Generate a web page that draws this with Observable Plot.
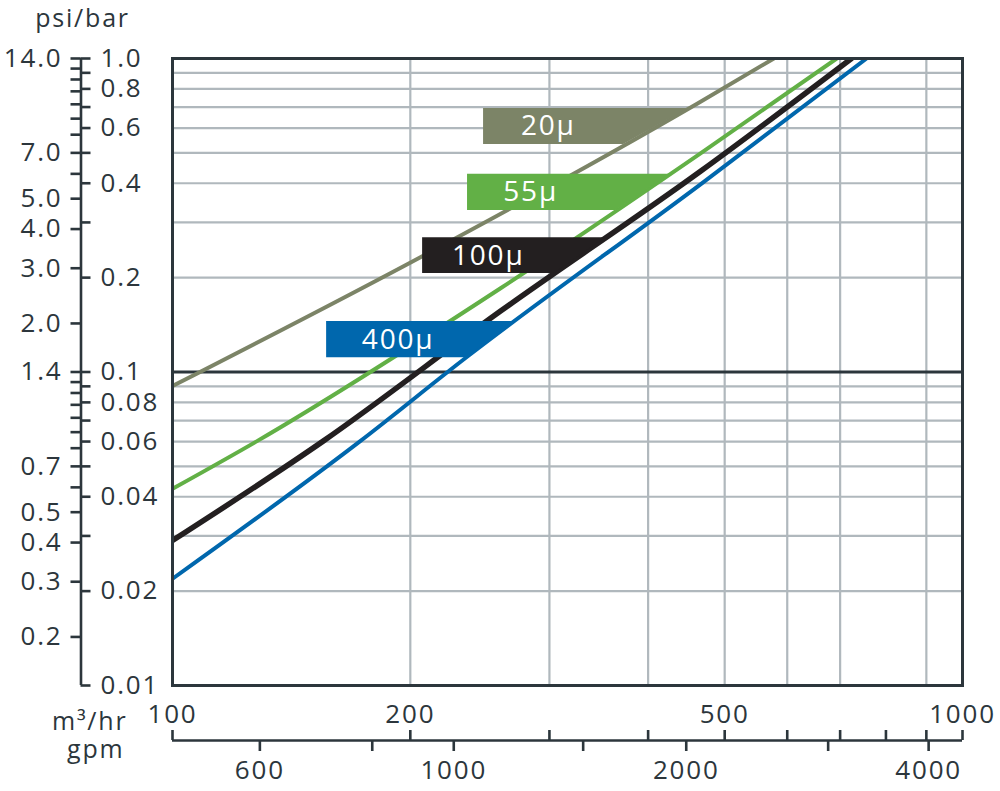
<!DOCTYPE html>
<html><head><meta charset="utf-8">
<script src="https://cdn.jsdelivr.net/npm/d3@7"></script>
<script src="https://cdn.jsdelivr.net/npm/@observablehq/plot@0.6"></script>
<style>
html,body{margin:0;padding:0;background:#fff;}
#chart svg{display:block;}
#chart svg text{letter-spacing:1.8px;}
</style></head><body><div id="chart"></div>
<script>
// ---- scales / axes data ----
const xDomain = [100, 1000];          // m³/hr
const yDomain = [0.01, 1];            // bar
const psiPerBar = 14;                 // psi ↔ bar alignment used on the chart

const xGrid = [200, 300, 400, 500, 600, 700, 900];
const yGrid = [0.9, 0.8, 0.7, 0.6, 0.5, 0.4, 0.3, 0.2, 0.09, 0.08, 0.07, 0.06, 0.05, 0.04, 0.03, 0.02];
const yDarkLine = [0.1];

const barTicks = [1, 0.9, 0.8, 0.7, 0.6, 0.5, 0.4, 0.3, 0.2, 0.1, 0.09, 0.08, 0.07, 0.06, 0.05, 0.04, 0.03, 0.02, 0.01];
const barLabelValues = [1, 0.8, 0.6, 0.4, 0.2, 0.1, 0.08, 0.06, 0.04, 0.02, 0.01];
const barLabelText = ["1.0", "0.8", "0.6", "0.4", "0.2", "0.1", "0.08", "0.06", "0.04", "0.02", "0.01"];

const psiTicks = [14, 13, 12, 11, 10, 9, 8, 7, 6, 5, 4, 3, 2, 1.4, 1.3, 1.2, 1.1, 1.0, 0.9, 0.8, 0.7, 0.6, 0.5, 0.4, 0.3, 0.2];
const psiLabelValues = [14, 7, 5, 4, 3, 2, 1.4, 0.7, 0.5, 0.4, 0.3, 0.2];
const psiLabelText = ["14.0", "7.0", "5.0", "4.0", "3.0", "2.0", "1.4", "0.7", "0.5", "0.4", "0.3", "0.2"];

const m3Ticks = [100, 200, 300, 400, 500, 600, 700, 800, 900, 1000];
const m3LabelValues = [100, 200, 500, 1000];

const gpmTicks = [600, 800, 1000, 1500, 2000, 3000, 4000];
const gpmTickAtM3 = [129, 179, 227, 331, 447, 676, 906];   // where each gpm tick sits on the m³/hr scale
const gpmLabelValues = [600, 1000, 2000, 4000];

// ---- series (flow m³/hr, pressure drop bar) ----
const seriesNames = ["20μ", "55μ", "100μ", "400μ"];
const seriesColors = ["#7c8467", "#62b046", "#231f20", "#0067ad"];
const flow20 = [100, 206, 462, 577];
const dp20 = [0.0902, 0.2324, 0.719, 1.0];
const flow55 = [100, 128.1, 260.2, 466, 693];
const dp55 = [0.0424, 0.0603, 0.185, 0.498, 1.0];
const flow100 = [100, 155.3, 260.2, 466, 723.5];
const dp100 = [0.029, 0.0603, 0.1564, 0.4366, 1.0];
const flow400 = [100, 173, 234.9, 466, 756];
const dp400 = [0.0219, 0.0603, 0.1108, 0.397, 1.0];

// ---- series label boxes ----
const labelFlowStart = [247.6, 236.3, 207.3, 156.7];
const labelDpTop = [0.693, 0.427, 0.268, 0.145];
const labelDpBottom = [0.532, 0.3275, 0.206, 0.111];
const labelTextFlow = [299, 284, 251, 193];

// ---- build ----
const flows = [flow20, flow55, flow100, flow400];
const dps = [dp20, dp55, dp100, dp400];
const widths = [4, 4, 5.5, 4];
const ink = "#2c363c";
const gridColor = "#b0b8bd";

function flowAt(F, D, b) {
  for (let i = 0; i < D.length - 1; i++) {
    if (b >= D[i] && b <= D[i + 1]) {
      const t = (Math.log(b) - Math.log(D[i])) / (Math.log(D[i + 1]) - Math.log(D[i]));
      return Math.exp(Math.log(F[i]) + t * (Math.log(F[i + 1]) - Math.log(F[i])));
    }
  }
  return F[F.length - 1];
}

const seriesMarks = [];
seriesNames.forEach((name, s) => {
  const pts = flows[s].map((q, i) => ({q, dp: dps[s][i]}));
  seriesMarks.push(Plot.line(pts, {x: "q", y: "dp", stroke: seriesColors[s], strokeWidth: widths[s], curve: "monotone-x", clip: true}));
});
const boxMarks = [];
seriesNames.forEach((name, s) => {
  const rows = [labelDpBottom[s], labelDpTop[s]].map(b => ({
    dp: b, x1: labelFlowStart[s], x2: flowAt(flows[s], dps[s], b)
  }));
  boxMarks.push(Plot.areaX(rows, {y: "dp", x1: "x1", x2: "x2", fill: seriesColors[s]}));
  boxMarks.push(Plot.text([name], {
    x: labelTextFlow[s], y: Math.sqrt(labelDpTop[s] * labelDpBottom[s]),
    text: d => d, fill: "white", fontSize: 28
  }));
});

const barLabels = barLabelValues.map((v, i) => ({v, t: barLabelText[i]}));
const psiLabels = psiLabelValues.map((v, i) => ({v: v / psiPerBar, t: psiLabelText[i]}));
const gpmLabels = gpmLabelValues.map(g => ({x: gpmTickAtM3[gpmTicks.indexOf(g)], t: String(g)}));

const chart = Plot.plot({
  width: 1000, height: 791,
  marginLeft: 172, marginRight: 38, marginTop: 58, marginBottom: 106,
  x: {type: "log", domain: xDomain, axis: null},
  y: {type: "log", domain: yDomain, axis: null},
  style: {fontFamily: "'Open Sans', sans-serif", color: ink, background: "white"},
  marks: [
    Plot.ruleX(xGrid, {stroke: gridColor, strokeWidth: 2.2}),
    Plot.ruleY(yGrid, {stroke: gridColor, strokeWidth: 2.2}),
    Plot.ruleY(yDarkLine, {stroke: ink, strokeWidth: 3}),
    ...seriesMarks,
    ...boxMarks,
    Plot.frame({stroke: ink, strokeWidth: 3}),
    // left double axis
    Plot.ruleX([xDomain[0]], {y1: yDomain[0], y2: yDomain[1], dx: -91.5, stroke: ink, strokeWidth: 2.6}),
    Plot.ruleY(barTicks, {dx: -91.5, insetRight: 780, stroke: ink, strokeWidth: 2.6}),
    Plot.ruleY(psiTicks.map(p => p / psiPerBar), {dx: -101.5, insetRight: 780, stroke: ink, strokeWidth: 2.6}),
    Plot.text(barLabels, {x: xDomain[0], y: "v", text: "t", dx: -72, textAnchor: "start", fontSize: 26, fill: ink}),
    Plot.text(psiLabels, {x: xDomain[0], y: "v", text: "t", dx: -110, textAnchor: "end", fontSize: 26, fill: ink}),
    // bottom double axis
    Plot.ruleY([yDomain[0]], {x1: xDomain[0], x2: xDomain[1], dy: 55, stroke: ink, strokeWidth: 2.6}),
    Plot.ruleX(m3Ticks, {dy: 55, insetTop: 617, stroke: ink, strokeWidth: 2.6}),
    Plot.ruleX(gpmTickAtM3, {dy: 55, insetTop: 627, insetBottom: -11, stroke: ink, strokeWidth: 2.6}),
    Plot.text(m3LabelValues, {x: d => d, y: yDomain[0], text: d => String(d), dy: 29, fontSize: 26, fill: ink}),
    Plot.text(gpmLabels, {x: "x", y: yDomain[0], text: "t", dy: 85, fontSize: 26, fill: ink}),
    // unit titles
    Plot.text(["psi/bar"], {frameAnchor: "top-left", text: d => d, dx: -90, dy: -40, textAnchor: "middle", lineAnchor: "middle", fontSize: 25, fill: ink}),
    Plot.text(["m³/hr"], {frameAnchor: "bottom-left", text: d => d, dx: -45, dy: 36, textAnchor: "end", lineAnchor: "middle", fontSize: 25, fill: ink}),
    Plot.text(["gpm"], {frameAnchor: "bottom-left", text: d => d, dx: -48, dy: 64, textAnchor: "end", lineAnchor: "middle", fontSize: 25, fill: ink})
  ]
});
document.getElementById("chart").appendChild(chart);
</script>
</body></html>
